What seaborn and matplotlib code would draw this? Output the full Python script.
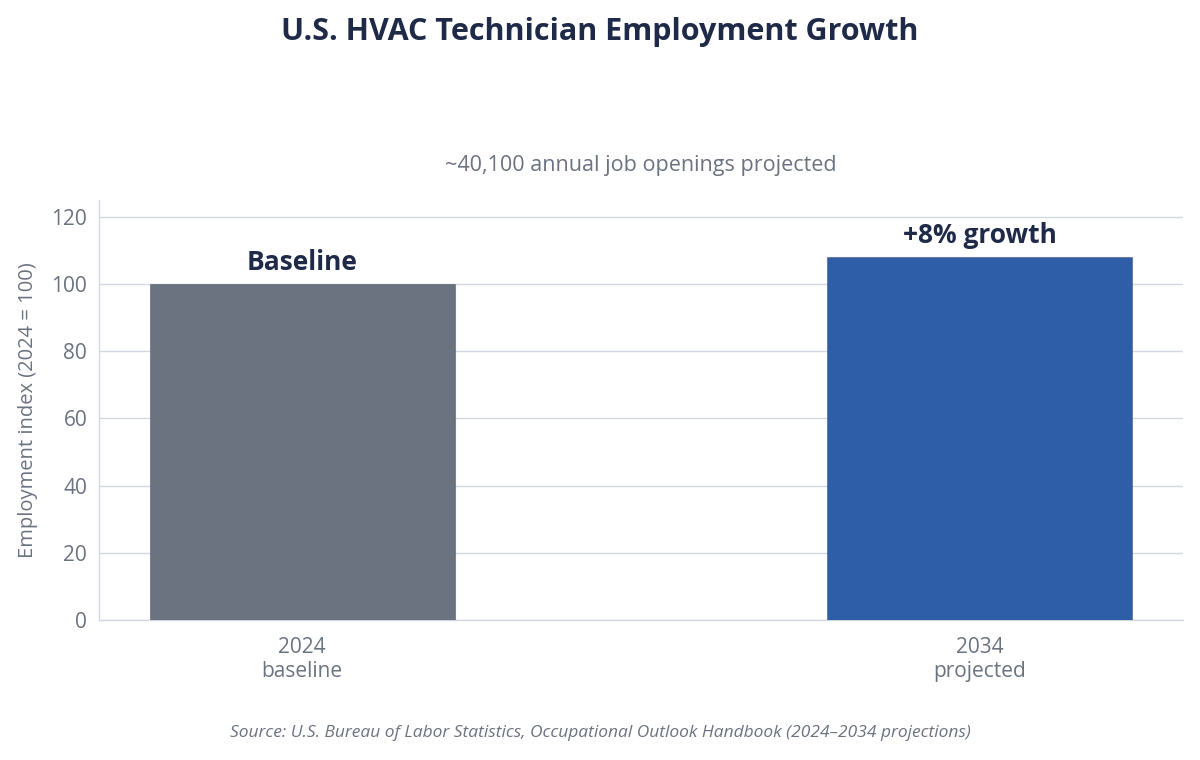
import seaborn as sns
import matplotlib.pyplot as plt
import pandas as pd

# data
years = ["2024\nbaseline", "2034\nprojected"]
index_values = [100, 108]
bar_labels = ["Baseline", "+8% growth"]
bar_colors = ["#6b7280", "#2e5ea8"]
y_ticks = [0, 20, 40, 60, 80, 100, 120]

title = "U.S. HVAC Technician Employment Growth"
subtitle = "~40,100 annual job openings projected"
source = "Source: U.S. Bureau of Labor Statistics, Occupational Outlook Handbook (2024\u20132034 projections)"

df = pd.DataFrame({"year": years, "value": index_values})

sns.set_theme(style="white")
plt.rcParams['font.family'] = ['Open Sans', 'DejaVu Sans']

navy = "#1e2a47"
gray_text = "#6b7280"
line_col = "#d3d7e0"

fig = plt.figure(figsize=(12, 7.6), dpi=100)
ax = fig.add_axes([0.0825, 0.184, 0.9035, 0.553])

sns.barplot(data=df, x="year", y="value", hue="year", palette=bar_colors,
            width=0.45, saturation=1, legend=False, ax=ax,
            edgecolor=(0.12, 0.16, 0.28, 0.35), linewidth=0.8, zorder=3)

ax.set_xlim(-0.3, 1.3)
ax.set_ylim(0, 125)
ax.set_yticks(y_ticks)
ax.yaxis.grid(True, color=line_col, linewidth=1, zorder=0)
ax.set_axisbelow(True)

for i, (v, lab) in enumerate(zip(index_values, bar_labels)):
    ax.text(i, v + 2.3, lab, ha="center", va="bottom", fontsize=19,
            fontweight="bold", color=navy)

sns.despine(ax=ax)
for s in ["left", "bottom"]:
    ax.spines[s].set_color(line_col)
    ax.spines[s].set_linewidth(1)

ax.tick_params(axis="both", colors=line_col, labelcolor=gray_text,
               labelsize=15, length=5, width=1)
ax.tick_params(axis="x", pad=8, length=4)
ax.set_xlabel("")
ax.set_ylabel("Employment index (2024 = 100)", fontsize=14.5, color=gray_text, labelpad=10)
ax.set_title(subtitle, fontsize=15.5, color=gray_text, pad=21)

fig.text(0.5, 0.958, title, ha="center", va="center", fontsize=22,
         fontweight="bold", color=navy)
fig.text(0.5, 0.035, source, ha="center", va="center", fontsize=12.5,
         style="italic", color=gray_text)

fig.savefig("out.png", dpi=100)
